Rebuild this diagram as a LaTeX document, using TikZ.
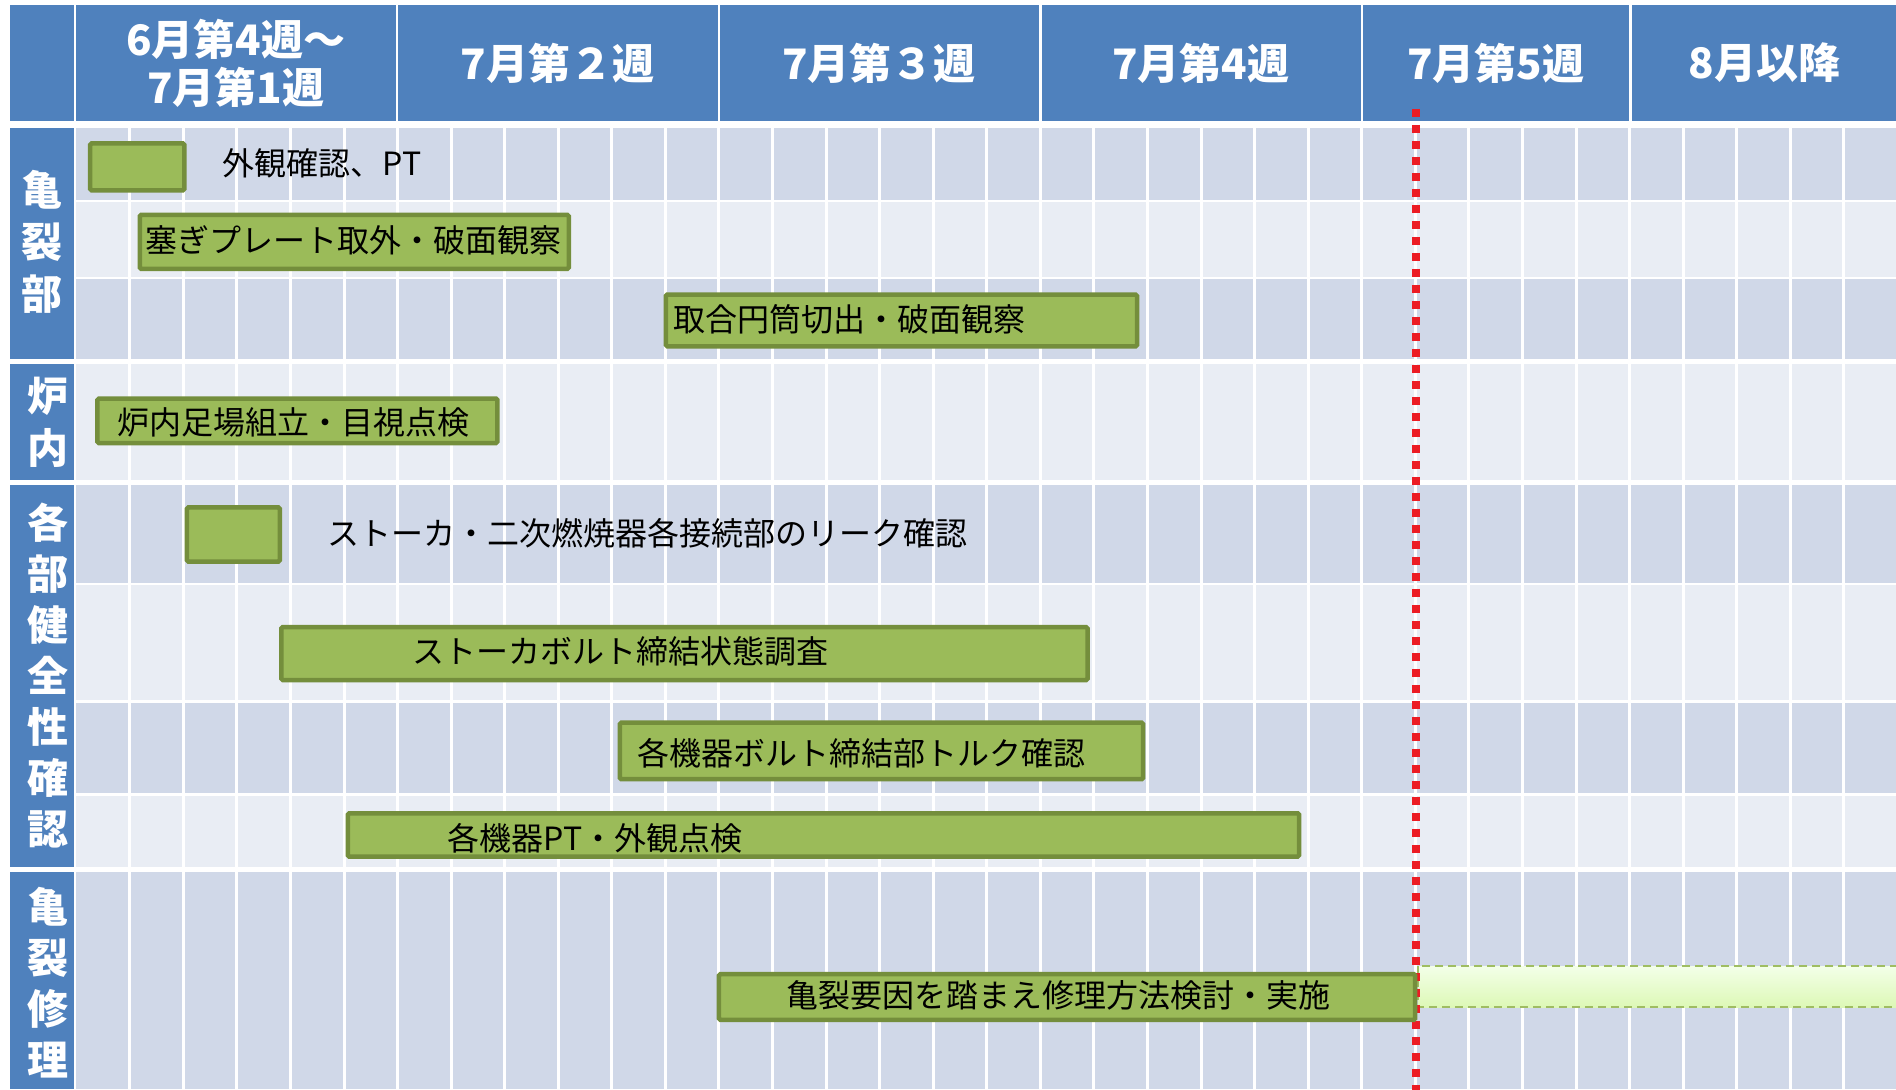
\documentclass[tikz,border=0pt]{standalone}
\usepackage{fontspec}
\setmainfont{Noto Sans CJK JP}
\definecolor{hdrblue}{HTML}{4F81BD}
\definecolor{rowdark}{HTML}{D0D8E8}
\definecolor{rowlight}{HTML}{E9EDF4}
\definecolor{barfill}{HTML}{9BBB59}
\definecolor{barline}{HTML}{748E3C}
\definecolor{redline}{HTML}{EC1C24}
\definecolor{futtop}{HTML}{F3FFE8}
\definecolor{futbot}{HTML}{DDF8B6}
\definecolor{futline}{HTML}{9FBD62}
\tikzset{
  hdrcell/.style={fill=hdrblue},
  sidecell/.style={fill=hdrblue},
  barbox/.style={fill=barfill, draw=barline, line width=4.5pt, rounded corners=1.5pt},
  futbox/.style={top color=futtop, bottom color=futbot, draw=futline, line width=2pt, dash pattern=on 8pt off 5pt},
  tasktext/.style={font=\fontsize{32}{38}\selectfont, text=black, inner sep=0pt, anchor=west},
  headtext/.style={font=\bfseries\fontsize{42}{50}\selectfont, text=white, align=center, inner sep=0pt},
  sidetext/.style={font=\bfseries\fontsize{41}{52}\selectfont, text=white, align=center, inner sep=0pt},
  gridline/.style={white, line width=3pt},
  todayline/.style={redline, line width=7.5pt, dash pattern=on 8pt off 8pt}
}
\begin{document}
\begin{tikzpicture}[x=1.2092pt,y=-1.2092pt]
\useasboundingbox (0,0) rectangle (1568,901);
\fill[white] (0,0) rectangle (1568,901);
\begin{scope}
\clip (0,0) rectangle (1568,901);
% header
\fill[hdrcell] (8,4) rectangle (61,100);
\fill[hdrcell] (63,4) rectangle (327.5,100);
\fill[hdrcell] (329.5,4) rectangle (593.5,100);
\fill[hdrcell] (595.5,4) rectangle (859.5,100);
\fill[hdrcell] (861.5,4) rectangle (1125.5,100);
\fill[hdrcell] (1127.5,4) rectangle (1347.5,100);
\fill[hdrcell] (1349.5,4) rectangle (1568,100);
\node[headtext] (h1) at (195,52) {6月第4週〜\\[-2pt]7月第1週};
\node[headtext] (h2) at (461,52) {7月第２週};
\node[headtext] (h3) at (727,52) {7月第３週};
\node[headtext] (h4) at (993,52) {7月第4週};
\node[headtext] (h5) at (1237,52) {7月第5週};
\node[headtext] (h6) at (1459,52) {8月以降};
% rows
\fill[rowdark]  (63,106) rectangle (1568,165);
\fill[rowlight] (63,167) rectangle (1568,229);
\fill[rowdark]  (63,231) rectangle (1568,297);
\fill[rowlight] (63,301) rectangle (1568,397);
\fill[rowdark]  (63,401) rectangle (1568,482);
\fill[rowlight] (63,484) rectangle (1568,579);
\fill[rowdark]  (63,581) rectangle (1568,656);
\fill[rowlight] (63,658) rectangle (1568,717);
\fill[rowdark]  (63,721) rectangle (1568,901);
\foreach \k in {1,...,34} \draw[gridline] ({63+44.3*\k},106) -- ({63+44.3*\k},901);
% side labels
\fill[sidecell] (8,106) rectangle (61,297);
\fill[sidecell] (8,301) rectangle (61,397);
\fill[sidecell] (8,401) rectangle (61,717);
\fill[sidecell] (8,721) rectangle (61,901);
\node[sidetext] (s1) at (35,200) {亀\\裂\\部};
\node[sidetext] (s2) at (40,349) {炉\\内};
\node[sidetext, font=\bfseries\fontsize{41}{51}\selectfont] (s3) at (40,559) {各\\部\\健\\全\\性\\確\\認};
\node[sidetext, font=\bfseries\fontsize{41}{51}\selectfont] (s4) at (40,813) {亀\\裂\\修\\理};
% future bar
\path[futbox] (1173,799) rectangle (1590,833);
% today line
\coordinate (r1) at (1171,90);
\coordinate (r2) at (1171,905);
\draw[todayline] (r1) -- (r2);
% bars
\path[barbox] (74.6,118.6) rectangle (152.4,157.4);
\path[barbox] (115.6,177.6) rectangle (470.4,222.4);
\path[barbox] (550.6,243.6) rectangle (940.4,286.4);
\path[barbox] (80.6,329.6) rectangle (411.4,366.4);
\path[barbox] (154.6,419.6) rectangle (231.4,464.4);
\path[barbox] (232.6,518.6) rectangle (899.4,562.4);
\path[barbox] (512.6,597.6) rectangle (945.4,644.4);
\path[barbox] (287.6,672.6) rectangle (1074.4,708.4);
\path[barbox] (594.6,805.6) rectangle (1170.4,843.4);
% task texts
\node[tasktext] (t1) at (184,135) {外観確認、PT};
\node[tasktext] (t2) at (120,199) {塞ぎプレート取外・破面観察};
\node[tasktext] (t3) at (557,264) {取合円筒切出・破面観察};
\node[tasktext] (t4) at (97,349) {炉内足場組立・目視点検};
\node[tasktext] (t5) at (271,441) {ストーカ・二次燃焼器各接続部のリーク確認};
\node[tasktext] (t6) at (341,539) {ストーカボルト締結状態調査};
\node[tasktext] (t7) at (527,623) {各機器ボルト締結部トルク確認};
\node[tasktext] (t8) at (370,693) {各機器PT・外観点検};
\node[tasktext] (t9) at (650,823) {亀裂要因を踏まえ修理方法検討・実施};
\end{scope}
\end{tikzpicture}
\end{document}
